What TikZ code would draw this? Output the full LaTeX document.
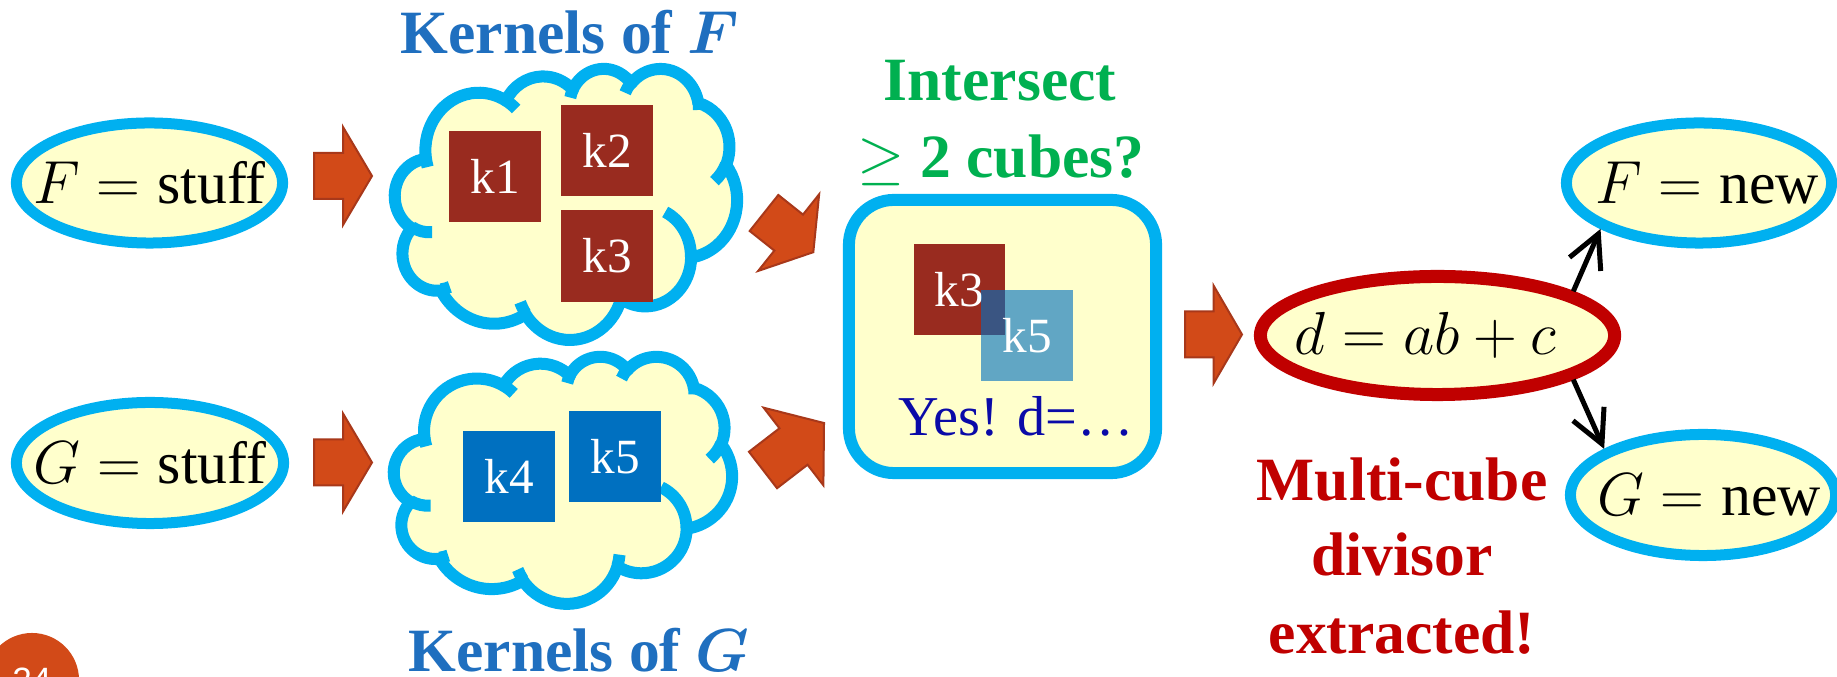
\documentclass[tikz,border=0pt]{standalone}
\usepackage{fontspec}
\setmainfont{Liberation Serif}
\setsansfont{Liberation Sans}
\usetikzlibrary{shapes.geometric,arrows.meta,positioning}

\definecolor{paleyellow}{HTML}{FFFFCC}
\definecolor{ringblue}{HTML}{00B0F0}
\definecolor{kernred}{HTML}{992B1F}
\definecolor{kernblue}{HTML}{0070C0}
\definecolor{headblue}{HTML}{1F6FBF}
\definecolor{isectgreen}{HTML}{00B050}
\definecolor{divred}{HTML}{C00000}
\definecolor{yesblue}{HTML}{0A0AA8}
\definecolor{arrowfill}{HTML}{D24A18}
\definecolor{arrowline}{HTML}{A8381A}
\definecolor{slidenum}{HTML}{D24A18}

\tikzset{
  bluering/.style={ellipse, draw=ringblue, line width=0.11cm, fill=paleyellow, inner sep=0pt},
  redring/.style={ellipse, draw=divred, line width=0.13cm, fill=paleyellow, inner sep=0pt},
  eqtext/.style={font=\fontsize{17}{20}\selectfont, inner sep=0pt},
  kernsq/.style={minimum size=0.91cm, inner sep=0pt, text=white, font=\fontsize{14}{16}\selectfont},
  headline/.style={anchor=base, inner sep=0pt, font=\bfseries\fontsize{17.5}{21}\selectfont},
  cloudpuff/.style={draw=ringblue, line width=0.12cm, fill=paleyellow, line join=round},
  arrowbody/.style={fill=arrowfill, draw=arrowline, line width=0.02cm},
  ptr/.style={-{Straight Barb[length=0.33cm,width=0.34cm]}, line width=0.05cm},
  % arc of a puff: radii, start angle and sweep as seen from the centre
  pptarc/.style n args={4}{insert path={arc[start angle={atan2(#1*sin(#3),#2*cos(#3))},
      delta angle={mod(atan2(#1*sin(#3+#4),#2*cos(#3+#4))-atan2(#1*sin(#3),#2*cos(#3))+720,360)},
      x radius=#1, y radius=#2]}},
  pics/fatarrow/.style={code={
      \draw[arrowbody] (0,-23) -- ({#1/2},-23) -- ({#1/2},-49) -- (#1,0)
        -- ({#1/2},49) -- ({#1/2},23) -- (0,23) -- cycle;}}
}

% cloud in a box: left, top, width, height
\newcommand{\kcloud}[4]{%
  \begin{scope}[shift={(#1,#2)}, xscale={#3/432}, yscale={#4/432}]
    \filldraw[cloudpuff] (39.00,143.70)
      [pptarc={67.53}{91.90}{-190.4875}{123.7805}]
      [pptarc={53.33}{72.67}{-144.1024}{89.9452}]
      [pptarc={43.65}{59.45}{-145.8079}{99.7230}]
      [pptarc={48.57}{65.95}{-130.9861}{117.2417}]
      [pptarc={53.33}{72.73}{-78.7089}{109.0269}]
      [pptarc={67.75}{92.20}{-46.2673}{130.2690}]
      [pptarc={57.85}{78.67}{0.6250}{114.0333}]
      [pptarc={67.52}{92.15}{22.4516}{115.1726}]
      [pptarc={77.20}{105.43}{66.2426}{75.7110}]
      [pptarc={43.60}{59.18}{-274.9421}{146.7356}]
      [pptarc={43.45}{59.45}{-246.8285}{152.5189}] -- cycle;
    \draw[cloudpuff, fill=none]
      (46.93,261.77) [pptarc={43.45}{59.45}{86.7420}{26.4295}]
      (69.28,348.99) [pptarc={43.60}{59.18}{73.6105}{11.4475}]
      (164.78,390.90) [pptarc={67.52}{92.15}{137.6242}{14.0811}]
      (288.27,347.51) [pptarc={67.52}{92.15}{6.4533}{15.9984}]
      (341.29,229.54) [pptarc={57.85}{78.67}{-70.2924}{70.9174}]
      (417.98,153.54) [pptarc={53.33}{72.73}{30.3180}{27.7515}]
      (383.24,54.26) [pptarc={48.57}{65.95}{-13.7443}{14.8589}]
      (290.78,39.52) [pptarc={48.57}{65.95}{-149.1815}{18.1954}]
      (221.41,47.20) [pptarc={43.65}{59.45}{-163.4943}{17.6864}]
      (140.00,51.92) [pptarc={67.53}{91.90}{-66.7070}{12.3194}]
      (41.27,157.89) [pptarc={67.53}{91.90}{157.6544}{11.8582}];
  \end{scope}}

\begin{document}
\begin{tikzpicture}[x=0.01cm, y=-0.01cm]
\useasboundingbox (0,0) rectangle (1837,677);
\clip (0,0) rectangle (1837,677);

% the two functions
\node[bluering, minimum width=2.66cm, minimum height=1.2cm] (Fold) at (149.5,183) {};
\node[eqtext] at (Fold) {$F = \mbox{stuff}$};
\node[bluering, minimum width=2.67cm, minimum height=1.21cm] (Gold) at (150,463) {};
\node[eqtext] at (Gold) {$G = \mbox{stuff}$};
\pic at (314,176) {fatarrow=58};
\pic at (314,462.5) {fatarrow=58};

% kernels
\kcloud{395}{68}{342}{271}
\kcloud{394}{356}{338}{247}
\node[kernsq, fill=kernred] (k1) at (495,176.5) {k1};
\node[kernsq, fill=kernred] (k2) at (607,150.5) {k2};
\node[kernsq, fill=kernred] (k3) at (607,256) {k3};
\node[kernsq, fill=kernblue] (k4) at (509,476.5) {k4};
\node[kernsq, fill=kernblue] (k5) at (615,456.5) {k5};
\node[headline, text=headblue] (kerF) at (570,54) {Kernels of {\boldmath$F$}};
\node[headline, text=headblue] (kerG) at (579,672) {Kernels of {\boldmath$G$}};

% intersection test
\pic[rotate=-38.5] at (764,213) {fatarrow=63};
\pic[rotate=37.6] at (763,470) {fatarrow=77};
\node[draw=ringblue, line width=0.12cm, fill=paleyellow, rounded corners=0.45cm,
  minimum width=3.07cm, minimum height=2.73cm] (testbox) at (1002.5,336.5) {};
\node[headline, text=isectgreen] at (1000,101) {Intersect};
\node[headline, text=isectgreen] at (1001,178) {$\geq$ 2 cubes?};
\node[kernsq, fill=kernred] (bk3) at (959.5,289.5) {k3};
\node[kernsq, fill=kernblue, fill opacity=0.62, text opacity=1] (bk5) at (1027,335.5) {k5};
\node[anchor=base, inner sep=0pt, text=yesblue, font=\fontsize{16}{19}\selectfont]
  (yes) at (1016,436) {Yes! d=…};

% divisor and new functions
\pic at (1185,334.5) {fatarrow=57};
\node[redring, minimum width=3.54cm, minimum height=1.18cm] (divisor) at (1437.5,335.5) {};
\node[eqtext] at ([xshift=-0.12cm]divisor) {$d = ab + c$};
\node[bluering, minimum width=2.65cm, minimum height=1.2cm] (Fnew) at (1699,183) {};
\node[eqtext] at ([xshift=0.08cm]Fnew) {$F = \mbox{new}$};
\node[bluering, minimum width=2.65cm, minimum height=1.21cm] (Gnew) at (1703,495) {};
\node[eqtext] at ([xshift=0.06cm]Gnew) {$G = \mbox{new}$};
\draw[ptr] (divisor.18.6) -- (Fnew.205.6);
\draw[ptr] (divisor.-18.6) -- (Gnew.155.2);
\node[headline, text=divred] at (1402,501) {Multi-cube};
\node[headline, text=divred] at (1402,576) {divisor};
\node[headline, text=divred] at (1402,654) {extracted!};

% slide number
\node[circle, fill=slidenum, minimum size=0.94cm, inner sep=0pt, text=white,
  font=\sffamily\fontsize{10}{12}\selectfont] (slideno) at (32,680) {24};
\end{tikzpicture}
\end{document}
